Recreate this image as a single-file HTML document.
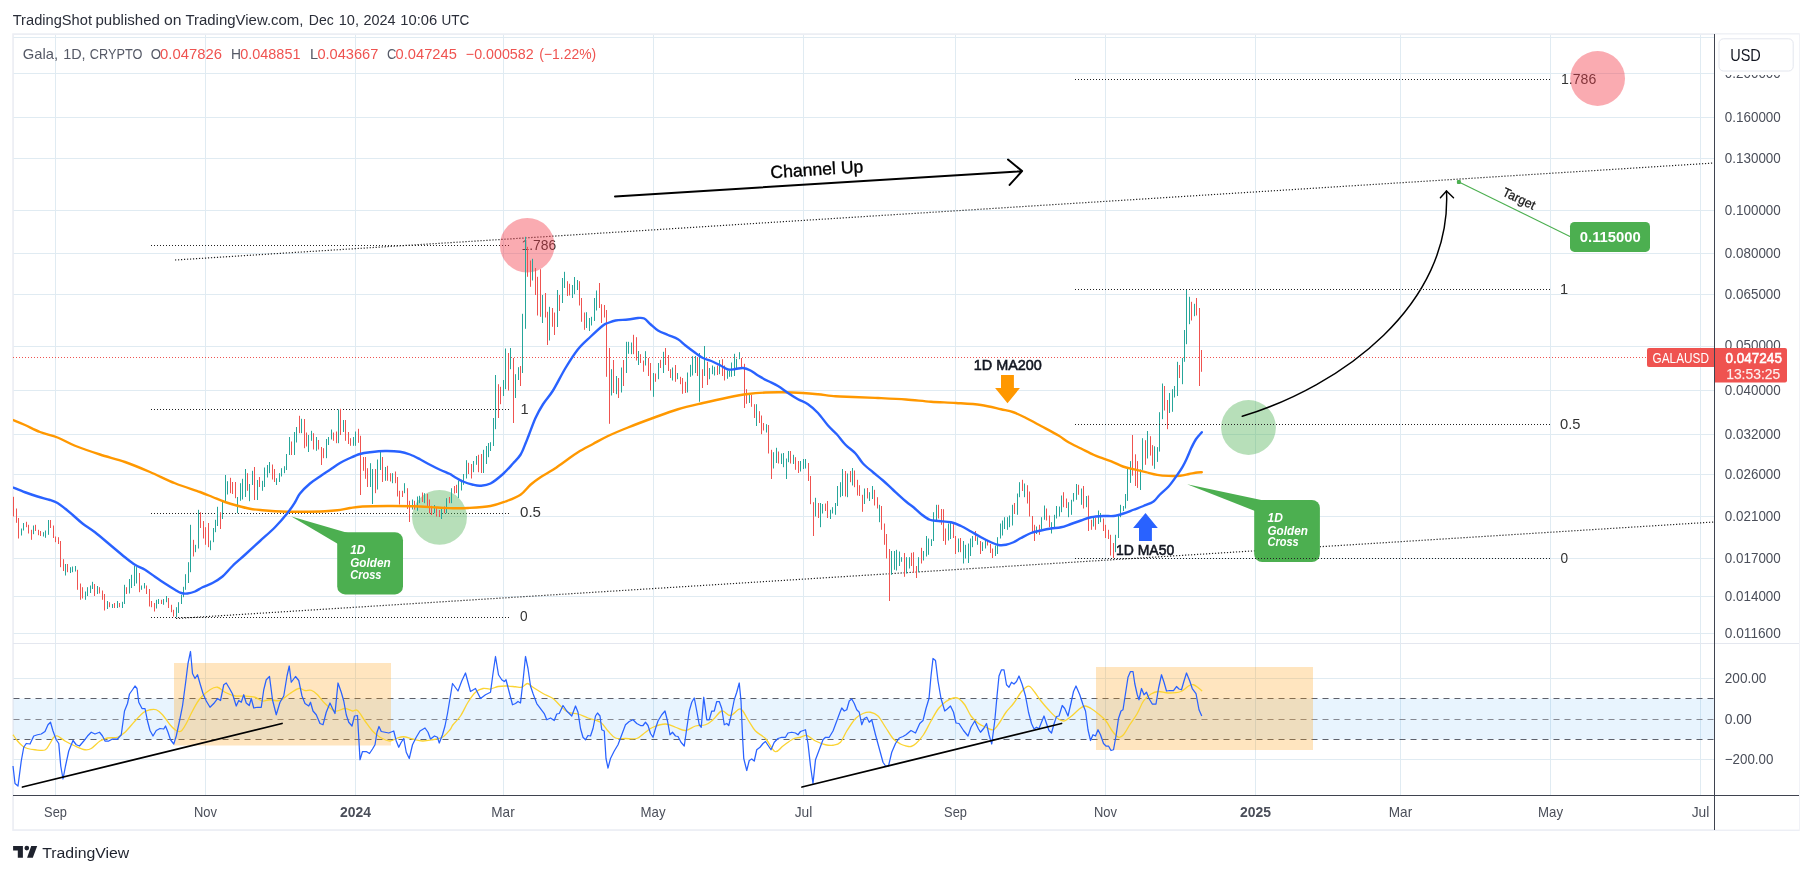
<!DOCTYPE html>
<html lang="en"><head><meta charset="utf-8"><title>GALAUSD chart</title>
<style>html,body{margin:0;padding:0;background:#fff;overflow:hidden}svg{display:block;will-change:transform}text{white-space:pre}</style></head>
<body>
<svg width="1812" height="874" viewBox="0 0 1812 874" font-family="'Liberation Sans', sans-serif" shape-rendering="auto">
<rect x="0" y="0" width="1812" height="874" fill="#ffffff"/>
<rect x="13.07" y="34.1" width="1785.83" height="795.95" fill="none" stroke="#eceef4" stroke-width="1.7"/>
<defs><clipPath id="pane"><rect x="13" y="34" width="1701" height="761"/></clipPath></defs>
<path d="M55.5 35V795M205.5 35V795M355.5 35V795M503.5 35V795M653.5 35V795M803.5 35V795M955.5 35V795M1105.5 35V795M1255.5 35V795M1400.5 35V795M1550.5 35V795M1700.5 35V795M13.5 37.5H1714M13.5 73.5H1714M13.5 117.5H1714M13.5 158.5H1714M13.5 210.5H1714M13.5 253.5H1714M13.5 294.5H1714M13.5 346.5H1714M13.5 390.5H1714M13.5 434.5H1714M13.5 474.5H1714M13.5 516.5H1714M13.5 558.5H1714M13.5 596.5H1714M13.5 633.5H1714M13.5 678.5H1714M13.5 759.5H1714" stroke="#e0ebf2" stroke-width="1" fill="none"/>
<path d="M13 643.5H1799" stroke="#e4e7ef" stroke-width="1.2"/>
<rect x="13.5" y="698.5" width="1700.5" height="41" fill="#2196f3" fill-opacity="0.1"/>
<path d="M13.5 698.5H1714M13.5 739.5H1714" stroke="#5d606b" stroke-width="1" stroke-dasharray="6 5" fill="none"/>
<path d="M13.5 719.5H1714" stroke="#868993" stroke-width="1" stroke-dasharray="6 5" fill="none"/>
<rect x="174" y="663" width="217" height="82.5" fill="#ff9800" fill-opacity="0.25"/>
<rect x="1096" y="667" width="217" height="83" fill="#ff9800" fill-opacity="0.25"/>
<path d="M13 357.5H1647" stroke="#ef5350" stroke-width="1" stroke-dasharray="1 2"/>
<path d="M151 245.5H509.5M151 409.5H509.5M151 513.5H509.5M151 617.5H509.5" stroke="#222" stroke-width="1" stroke-dasharray="1 2" fill="none"/>
<path d="M175 260L1714 163M176 618.5L1714 522" stroke="#222" stroke-width="1.2" stroke-dasharray="1.2 1.8" fill="none"/>
<text x="521.50" y="250.00" font-size="14.6" fill="#333" textLength="34.70" lengthAdjust="spacingAndGlyphs" >1.786</text>
<text x="520.50" y="413.80" font-size="14.6" fill="#333" >1</text>
<text x="520.00" y="516.90" font-size="14.6" fill="#333" textLength="21.00" lengthAdjust="spacingAndGlyphs" >0.5</text>
<text x="520.00" y="620.90" font-size="14.6" fill="#333" textLength="7.60" lengthAdjust="spacingAndGlyphs" >0</text>
<text x="1561.00" y="83.80" font-size="14.6" fill="#333" textLength="35.30" lengthAdjust="spacingAndGlyphs" >1.786</text>
<text x="1560.00" y="293.80" font-size="14.6" fill="#333" >1</text>
<text x="1560.00" y="429.20" font-size="14.6" fill="#333" textLength="20.50" lengthAdjust="spacingAndGlyphs" >0.5</text>
<text x="1560.50" y="563.20" font-size="14.6" fill="#333" textLength="7.60" lengthAdjust="spacingAndGlyphs" >0</text>
<circle cx="527.2" cy="245.2" r="27.3" fill="#f23645" fill-opacity="0.42"/>
<circle cx="1597.6" cy="78.5" r="27.4" fill="#f23645" fill-opacity="0.42"/>
<circle cx="439.5" cy="517.4" r="27.4" fill="#4caf50" fill-opacity="0.4"/>
<circle cx="1248.5" cy="427.5" r="27.4" fill="#4caf50" fill-opacity="0.4"/>
<path d="M21.5 528.5V535.5M23.5 523.0V530.5M33.5 525.5V534.2M43.5 532.2V536.5M45.5 530.5V537.8M48.5 520.0V534.8M65.5 564.0V575.5M70.5 567.2V573.0M72.5 566.5V572.2M75.5 566.0V571.5M85.5 591.5V599.8M87.5 587.2V596.0M90.5 585.5V593.0M92.5 581.8V589.0M97.5 586.0V594.0M107.5 601.0V609.0M112.5 604.0V608.0M117.5 601.0V608.0M122.5 601.8V608.0M124.5 584.8V604.0M129.5 579.0V593.5M131.5 574.8V588.0M134.5 566.0V586.0M136.5 567.2V583.5M141.5 585.5V589.8M144.5 583.0V588.5M156.5 599.8V608.5M158.5 599.0V604.0M163.5 599.0V604.8M166.5 596.0V602.2M176.5 607.2V617.2M178.5 602.2V613.0M181.5 594.8V604.0M183.5 586.8V597.2M185.5 574.2V589.8M188.5 562.2V583.0M190.5 524.8V572.2M195.5 544.8V552.2M198.5 509.8V548.5M210.5 540.5V550.2M213.5 528.0V542.2M215.5 519.8V532.2M217.5 506.8V526.0M222.5 501.5V519.0M225.5 475.0V502.0M227.5 481.2V494.5M237.5 497.0V513.2M240.5 483.2V500.8M242.5 478.8V499.5M245.5 469.0V497.0M249.5 484.0V501.2M252.5 470.8V485.0M257.5 480.0V500.0M262.5 480.8V490.8M264.5 467.5V487.0M267.5 465.0V477.5M269.5 462.0V473.2M276.5 478.2V485.0M279.5 473.2V482.0M281.5 468.2V476.5M284.5 466.2V473.2M286.5 454.0V470.0M289.5 437.0V455.0M294.5 432.0V455.0M296.5 427.0V442.5M301.5 418.8V433.2M308.5 435.0V452.0M311.5 430.8V440.8M316.5 437.0V450.8M326.5 439.0V458.2M328.5 437.0V445.0M331.5 429.5V439.5M338.5 409.5V443.2M343.5 420.0V432.0M353.5 437.0V445.8M355.5 431.5V445.8M370.5 463.2V487.0M372.5 469.0V504.0M377.5 459.5V489.5M380.5 452.0V470.0M385.5 467.0V480.8M392.5 473.2V483.2M404.5 483.2V493.2M412.5 499.5V509.5M417.5 496.5V510.8M419.5 495.8V503.2M424.5 493.2V503.2M434.5 505.0V513.2M441.5 508.2V519.0M446.5 498.2V513.2M451.5 488.2V503.2M458.5 480.5V498.0M461.5 479.8V490.5M463.5 474.0V484.8M466.5 460.2V478.5M473.5 461.0V472.2M476.5 456.0V464.8M483.5 449.8V473.0M486.5 446.0V464.0M488.5 443.0V457.2M490.5 442.2V451.0M493.5 418.0V446.0M495.5 375.0V429.2M503.5 380.0V396.0M505.5 348.5V389.2M510.5 348.0V369.2M515.5 374.2V398.0M518.5 367.2V380.0M522.5 313.8V373.0M525.5 236.8V328.8M532.5 258.8V280.5M542.5 295.0V323.0M549.5 306.8V340.5M557.5 290.0V327.0M562.5 278.0V303.0M564.5 271.8V288.0M572.5 285.0V298.0M574.5 277.0V294.2M577.5 280.0V290.0M586.5 312.2V328.0M589.5 318.0V331.0M591.5 316.8V325.5M594.5 298.0V321.0M596.5 290.5V310.5M611.5 369.2V395.5M616.5 376.0V394.2M621.5 367.5V392.5M626.5 341.8V373.0M628.5 341.8V353.8M631.5 342.5V354.2M638.5 351.0V365.0M645.5 351.2V365.5M653.5 373.0V396.8M658.5 363.0V379.2M663.5 351.8V373.0M672.5 367.5V380.5M677.5 373.0V379.2M687.5 372.5V392.5M690.5 364.8V376.8M692.5 356.2V375.5M695.5 356.0V373.0M699.5 353.0V401.8M704.5 346.0V376.0M709.5 368.0V379.2M712.5 365.5V374.2M714.5 366.8V375.5M719.5 360.0V374.2M727.5 370.5V378.8M729.5 370.5V376.8M731.5 362.5V376.8M734.5 353.8V376.0M736.5 358.8V368.0M739.5 352.2V359.2M749.5 394.2V403.0M756.5 404.2V426.0M766.5 424.2V432.5M773.5 452.2V468.5M776.5 447.8V463.0M781.5 453.5V464.0M783.5 453.0V467.2M786.5 458.5V479.0M788.5 451.0V462.2M793.5 454.8V464.0M800.5 461.0V471.5M803.5 459.0V469.0M805.5 459.0V468.5M815.5 497.8V516.5M820.5 503.0V527.2M822.5 504.0V513.5M830.5 509.8V519.0M832.5 507.2V513.5M835.5 503.0V514.8M837.5 486.0V506.0M840.5 482.2V497.2M842.5 469.0V496.0M847.5 473.5V497.2M852.5 468.0V485.5M864.5 488.5V504.0M869.5 492.2V501.0M872.5 486.0V499.0M879.5 504.8V522.2M891.5 551.0V574.8M894.5 551.0V569.8M896.5 549.8V570.5M899.5 551.5V566.0M901.5 557.2V561.8M906.5 557.2V573.5M909.5 557.2V568.5M918.5 557.2V572.2M923.5 551.0V560.5M926.5 536.0V556.5M928.5 538.5V554.8M931.5 539.2V546.0M933.5 512.2V541.0M936.5 504.8V520.5M948.5 523.5V540.5M950.5 522.2V539.0M958.5 538.5V552.2M963.5 541.0V563.5M965.5 544.8V558.5M968.5 543.5V563.0M970.5 538.5V556.0M972.5 536.0V547.2M977.5 537.2V544.8M982.5 542.2V551.0M985.5 539.8V548.5M995.5 545.5V556.0M997.5 537.2V554.0M1000.5 523.5V538.5M1002.5 520.5V535.5M1004.5 517.2V529.0M1007.5 517.2V529.8M1009.5 515.5V527.2M1012.5 504.8V525.5M1017.5 493.5V514.8M1019.5 482.2V497.2M1024.5 483.5V497.2M1036.5 526.5V534.0M1041.5 517.2V529.0M1044.5 505.5V519.8M1051.5 522.2V533.5M1054.5 514.8V527.2M1056.5 506.0V518.5M1059.5 506.5V516.5M1061.5 495.5V512.2M1068.5 502.2V517.2M1071.5 499.8V514.8M1073.5 493.0V501.5M1076.5 484.0V499.8M1081.5 488.5V504.8M1086.5 496.0V507.2M1093.5 516.0V526.5M1098.5 510.5V524.0M1100.5 513.0V522.2M1115.5 534.8V552.2M1118.5 514.8V538.0M1120.5 504.8V517.2M1123.5 506.0V511.0M1125.5 494.0V508.5M1127.5 468.2V500.9M1130.5 461.1V482.9M1140.5 469.4V490.0M1142.5 438.2V469.9M1147.5 431.0V458.5M1154.5 446.3V468.8M1157.5 447.1V461.9M1159.5 412.2V451.6M1162.5 383.5V419.2M1169.5 393.0V413.0M1172.5 389.2V411.8M1174.5 386.0V397.5M1177.5 361.8V396.0M1182.5 358.0V384.2M1184.5 330.0V361.8M1186.5 289.2V344.2M1189.5 296.8V324.2M1194.5 303.8V316.2" stroke="#26a69a" stroke-width="1" fill="none"/>
<path d="M13.5 496.8V516.5M16.5 508.5V522.8M18.5 518.0V538.5M26.5 521.8V527.2M28.5 524.8V533.5M31.5 529.8V539.8M35.5 524.8V531.0M38.5 529.8V535.2M40.5 531.0V536.0M50.5 520.0V528.0M53.5 525.5V538.0M55.5 536.5V542.2M58.5 537.2V544.0M60.5 541.0V567.2M63.5 559.2V571.0M67.5 564.0V572.2M77.5 569.8V589.8M80.5 583.5V599.8M82.5 587.2V598.5M94.5 584.0V596.0M99.5 587.2V593.5M102.5 590.5V599.8M104.5 594.0V610.5M109.5 602.2V607.2M114.5 603.0V608.0M119.5 603.0V607.2M126.5 587.2V594.0M139.5 573.0V592.2M146.5 585.5V594.0M149.5 589.0V606.5M151.5 601.0V607.2M154.5 603.0V611.5M161.5 599.8V604.0M168.5 598.0V608.0M171.5 604.8V612.2M173.5 609.8V616.5M193.5 539.8V556.5M200.5 512.2V528.0M203.5 521.0V538.5M205.5 527.2V544.8M208.5 523.0V547.2M220.5 512.2V529.0M230.5 477.8V493.2M232.5 482.0V494.0M235.5 482.0V498.2M247.5 473.2V490.8M254.5 467.0V500.0M259.5 477.0V487.0M272.5 464.5V479.5M274.5 469.0V482.0M291.5 441.5V455.0M299.5 415.8V433.2M304.5 419.0V448.2M306.5 432.5V446.5M313.5 433.2V449.5M318.5 440.0V449.5M321.5 447.0V465.0M323.5 448.2V458.2M333.5 432.5V440.8M336.5 431.5V443.2M340.5 408.8V435.0M345.5 420.0V440.8M348.5 432.0V444.0M350.5 438.2V445.8M358.5 428.8V442.8M360.5 435.8V495.0M363.5 457.0V470.8M365.5 457.0V478.8M367.5 468.2V487.0M375.5 469.0V493.2M382.5 457.0V482.0M387.5 465.8V480.8M390.5 473.2V481.5M395.5 471.5V483.2M397.5 477.0V496.5M399.5 490.8V504.5M402.5 490.8V497.0M407.5 488.2V509.0M409.5 500.8V522.0M414.5 500.8V509.5M422.5 492.5V502.0M427.5 493.8V507.0M429.5 499.5V513.2M431.5 505.8V515.0M436.5 507.0V516.5M439.5 510.0V517.0M444.5 506.5V513.2M449.5 497.0V503.2M454.5 486.0V493.5M456.5 484.8V493.0M468.5 462.8V474.0M471.5 464.0V478.5M478.5 454.8V472.2M481.5 454.0V473.0M498.5 384.2V418.0M500.5 386.8V404.2M508.5 353.0V390.5M513.5 358.0V423.0M520.5 366.0V386.0M527.5 246.8V276.8M530.5 260.5V286.8M535.5 268.0V295.0M537.5 276.8V315.5M540.5 269.2V316.8M545.5 293.0V317.5M547.5 311.8V345.0M552.5 308.0V326.8M554.5 312.5V335.0M559.5 295.0V311.0M567.5 281.2V296.0M569.5 283.8V295.5M579.5 281.2V305.5M581.5 298.0V321.8M584.5 312.5V329.8M599.5 283.0V308.0M601.5 304.2V323.0M604.5 305.0V317.5M606.5 310.0V376.8M609.5 348.0V423.8M613.5 360.0V393.0M618.5 378.0V398.0M623.5 360.0V386.0M633.5 334.8V354.2M636.5 337.2V360.5M640.5 354.2V363.0M643.5 360.5V371.8M648.5 358.0V376.0M650.5 363.0V390.5M655.5 373.5V381.8M660.5 359.8V368.0M665.5 348.0V365.0M668.5 355.0V371.0M670.5 369.2V378.0M675.5 365.0V381.8M680.5 376.8V384.2M682.5 378.0V393.8M685.5 381.8V393.0M697.5 358.0V376.0M702.5 369.2V388.0M707.5 361.8V385.0M717.5 365.5V375.0M722.5 359.2V376.0M724.5 365.5V380.5M741.5 358.0V368.0M744.5 363.8V408.0M746.5 389.2V403.8M751.5 395.0V406.8M754.5 404.2V418.0M759.5 411.2V423.0M761.5 415.5V434.2M763.5 423.0V430.5M768.5 425.0V453.5M771.5 449.8V479.0M778.5 451.5V463.5M790.5 451.0V463.5M795.5 457.2V469.8M798.5 461.0V473.0M808.5 463.0V481.0M810.5 476.0V504.2M813.5 502.2V536.0M818.5 503.0V518.0M825.5 503.5V511.0M827.5 501.0V518.0M845.5 471.0V496.5M850.5 471.0V482.2M854.5 470.5V487.2M857.5 479.8V495.5M859.5 485.2V496.0M862.5 494.8V511.8M867.5 488.0V498.5M874.5 489.8V505.5M877.5 497.2V508.5M881.5 506.0V529.8M884.5 523.5V544.8M886.5 534.0V558.5M889.5 549.0V601.0M904.5 553.0V576.8M911.5 552.8V566.0M913.5 552.2V573.0M916.5 566.0V578.0M921.5 547.8V563.5M938.5 504.8V518.5M941.5 509.0V524.8M943.5 509.2V541.0M945.5 528.5V544.8M953.5 524.2V538.0M955.5 536.0V554.0M960.5 538.0V552.2M975.5 531.0V541.0M980.5 541.0V554.0M987.5 540.5V545.5M990.5 544.0V553.0M992.5 548.5V558.0M1014.5 503.0V514.0M1022.5 479.8V491.0M1027.5 485.2V503.5M1029.5 491.5V516.5M1032.5 516.0V532.2M1034.5 524.8V541.0M1039.5 524.8V534.8M1046.5 508.5V520.5M1049.5 515.5V527.2M1063.5 492.2V507.2M1066.5 498.5V508.0M1078.5 484.8V494.8M1083.5 486.0V508.5M1088.5 495.5V531.0M1091.5 519.8V529.8M1095.5 518.0V529.8M1103.5 518.5V531.0M1105.5 524.8V538.0M1108.5 529.8V539.0M1110.5 534.8V555.5M1113.5 543.0V558.0M1132.5 435.0V475.7M1135.5 454.3V486.0M1137.5 461.1V487.9M1145.5 440.2V464.8M1150.5 436.2V455.6M1152.5 445.1V465.7M1164.5 386.0V410.5M1167.5 400.0V429.2M1179.5 365.0V378.0M1191.5 301.8V320.5M1196.5 298.0V315.5M1199.5 308.0V386.0M1201.5 350.0V371.8" stroke="#ef5350" stroke-width="1" fill="none"/>
<g clip-path="url(#pane)">
<path d="M13.00 420.00C15.00 420.83 20.50 423.00 25.00 425.00C29.50 427.00 34.58 429.92 40.00 432.00C45.42 434.08 51.67 435.21 57.50 437.50C63.33 439.79 67.92 442.92 75.00 445.75C82.08 448.58 91.67 451.79 100.00 454.50C108.33 457.21 116.67 459.08 125.00 462.00C133.33 464.92 141.67 468.46 150.00 472.00C158.33 475.54 166.67 479.92 175.00 483.25C183.33 486.58 193.75 489.71 200.00 492.00C206.25 494.29 208.33 495.33 212.50 497.00C216.67 498.67 220.83 500.54 225.00 502.00C229.17 503.46 233.33 504.62 237.50 505.75C241.67 506.88 245.83 508.00 250.00 508.75C254.17 509.50 258.33 509.83 262.50 510.25C266.67 510.67 270.83 511.00 275.00 511.25C279.17 511.50 283.33 511.67 287.50 511.75C291.67 511.83 293.75 511.83 300.00 511.75C306.25 511.67 318.75 511.50 325.00 511.25C331.25 511.00 333.33 510.79 337.50 510.25C341.67 509.71 345.83 508.62 350.00 508.00C354.17 507.38 356.25 506.83 362.50 506.50C368.75 506.17 379.17 506.04 387.50 506.00C395.83 505.96 404.17 506.00 412.50 506.25C420.83 506.50 430.75 507.17 437.50 507.50C444.25 507.83 447.92 508.17 453.00 508.25C458.08 508.33 461.75 508.38 468.00 508.00C474.25 507.62 484.25 507.08 490.50 506.00C496.75 504.92 500.50 503.38 505.50 501.50C510.50 499.62 516.33 497.54 520.50 494.75C524.67 491.96 527.17 487.67 530.50 484.75C533.83 481.83 536.75 479.75 540.50 477.25C544.25 474.75 548.83 472.46 553.00 469.75C557.17 467.04 561.33 463.92 565.50 461.00C569.67 458.08 573.42 455.08 578.00 452.25C582.58 449.42 588.00 446.71 593.00 444.00C598.00 441.29 602.17 438.75 608.00 436.00C613.83 433.25 620.50 430.50 628.00 427.50C635.50 424.50 644.67 421.04 653.00 418.00C661.33 414.96 669.67 411.75 678.00 409.25C686.33 406.75 694.67 404.96 703.00 403.00C711.33 401.04 720.50 399.00 728.00 397.50C735.50 396.00 741.75 394.83 748.00 394.00C754.25 393.17 759.67 392.79 765.50 392.50C771.33 392.21 776.75 392.17 783.00 392.25C789.25 392.33 797.17 392.67 803.00 393.00C808.83 393.33 812.58 393.71 818.00 394.25C823.42 394.79 829.67 395.79 835.50 396.25C841.33 396.71 845.92 396.71 853.00 397.00C860.08 397.29 869.17 397.58 878.00 398.00C886.83 398.42 897.17 398.88 906.00 399.50C914.83 400.12 922.67 401.17 931.00 401.75C939.33 402.33 947.67 402.46 956.00 403.00C964.33 403.54 973.50 403.96 981.00 405.00C988.50 406.04 995.58 408.04 1001.00 409.25C1006.42 410.46 1009.33 410.79 1013.50 412.25C1017.67 413.71 1021.42 415.71 1026.00 418.00C1030.58 420.29 1035.58 423.08 1041.00 426.00C1046.42 428.92 1053.92 432.79 1058.50 435.50C1063.08 438.21 1064.75 440.08 1068.50 442.25C1072.25 444.42 1076.83 446.42 1081.00 448.50C1085.17 450.58 1090.33 453.27 1093.50 454.75C1096.67 456.23 1097.02 456.29 1100.00 457.40C1102.98 458.51 1107.58 459.88 1111.40 461.40C1115.22 462.92 1119.08 465.17 1122.90 466.50C1126.72 467.83 1130.48 468.45 1134.30 469.40C1138.12 470.35 1141.98 471.28 1145.80 472.20C1149.62 473.12 1153.40 474.28 1157.20 474.90C1161.00 475.52 1164.80 475.77 1168.60 475.90C1172.40 476.03 1176.57 476.02 1180.00 475.70C1183.43 475.38 1186.32 474.53 1189.20 474.00C1192.08 473.47 1195.20 472.78 1197.30 472.50C1199.40 472.22 1201.05 472.33 1201.80 472.30" stroke="#ff9800" stroke-width="2.4" fill="none" stroke-linecap="round" stroke-linejoin="round"/>
<path d="M13.00 487.50C15.00 488.29 20.92 490.75 25.00 492.25C29.08 493.75 33.33 495.21 37.50 496.50C41.67 497.79 46.67 498.92 50.00 500.00C53.33 501.08 55.00 501.58 57.50 503.00C60.00 504.42 62.50 506.54 65.00 508.50C67.50 510.46 69.58 512.25 72.50 514.75C75.42 517.25 78.75 520.58 82.50 523.50C86.25 526.42 90.42 528.71 95.00 532.25C99.58 535.79 105.00 540.58 110.00 544.75C115.00 548.92 120.83 553.92 125.00 557.25C129.17 560.58 131.67 562.67 135.00 564.75C138.33 566.83 141.67 567.75 145.00 569.75C148.33 571.75 151.67 574.46 155.00 576.75C158.33 579.04 161.67 581.33 165.00 583.50C168.33 585.67 172.29 588.17 175.00 589.75C177.71 591.33 179.17 592.38 181.25 593.00C183.33 593.62 185.21 593.75 187.50 593.50C189.79 593.25 192.50 592.54 195.00 591.50C197.50 590.46 199.58 588.67 202.50 587.25C205.42 585.83 209.17 584.79 212.50 583.00C215.83 581.21 219.17 579.33 222.50 576.50C225.83 573.67 228.75 569.62 232.50 566.00C236.25 562.38 240.42 558.92 245.00 554.75C249.58 550.58 255.00 545.58 260.00 541.00C265.00 536.42 270.42 531.92 275.00 527.25C279.58 522.58 284.17 517.17 287.50 513.00C290.83 508.83 292.92 505.50 295.00 502.25C297.08 499.00 297.50 496.62 300.00 493.50C302.50 490.38 306.67 486.33 310.00 483.50C313.33 480.67 316.67 478.79 320.00 476.50C323.33 474.21 326.67 472.00 330.00 469.75C333.33 467.50 336.67 464.96 340.00 463.00C343.33 461.04 346.67 459.50 350.00 458.00C353.33 456.50 356.67 454.96 360.00 454.00C363.33 453.04 365.83 452.75 370.00 452.25C374.17 451.75 380.00 451.08 385.00 451.00C390.00 450.92 395.83 451.17 400.00 451.75C404.17 452.33 406.67 453.25 410.00 454.50C413.33 455.75 416.67 457.54 420.00 459.25C423.33 460.96 426.67 463.00 430.00 464.75C433.33 466.50 436.67 468.21 440.00 469.75C443.33 471.29 447.83 472.96 450.00 474.00C452.17 475.04 450.83 474.75 453.00 476.00C455.17 477.25 459.67 480.04 463.00 481.50C466.33 482.96 470.08 484.04 473.00 484.75C475.92 485.46 477.58 485.96 480.50 485.75C483.42 485.54 486.75 485.46 490.50 483.50C494.25 481.54 499.25 477.33 503.00 474.00C506.75 470.67 510.08 466.71 513.00 463.50C515.92 460.29 518.42 458.08 520.50 454.75C522.58 451.42 524.17 446.62 525.50 443.50C526.83 440.38 526.83 440.25 528.50 436.00C530.17 431.75 533.08 423.29 535.50 418.00C537.92 412.71 540.08 408.83 543.00 404.25C545.92 399.67 549.25 396.54 553.00 390.50C556.75 384.46 561.33 374.88 565.50 368.00C569.67 361.12 573.83 354.46 578.00 349.25C582.17 344.04 586.33 340.71 590.50 336.75C594.67 332.79 600.08 327.79 603.00 325.50C605.92 323.21 605.92 323.83 608.00 323.00C610.08 322.17 612.17 321.08 615.50 320.50C618.83 319.92 624.25 319.92 628.00 319.50C631.75 319.08 635.29 318.17 638.00 318.00C640.71 317.83 642.17 317.46 644.25 318.50C646.33 319.54 648.21 322.25 650.50 324.25C652.79 326.25 655.08 328.71 658.00 330.50C660.92 332.29 664.67 333.54 668.00 335.00C671.33 336.46 675.08 337.50 678.00 339.25C680.92 341.00 682.58 343.21 685.50 345.50C688.42 347.79 692.58 350.92 695.50 353.00C698.42 355.08 700.08 356.54 703.00 358.00C705.92 359.46 710.08 360.50 713.00 361.75C715.92 363.00 718.00 364.21 720.50 365.50C723.00 366.79 725.50 368.92 728.00 369.50C730.50 370.08 733.00 369.25 735.50 369.00C738.00 368.75 740.50 367.75 743.00 368.00C745.50 368.25 748.00 369.25 750.50 370.50C753.00 371.75 755.08 373.75 758.00 375.50C760.92 377.25 764.67 379.25 768.00 381.00C771.33 382.75 774.67 384.00 778.00 386.00C781.33 388.00 784.67 390.79 788.00 393.00C791.33 395.21 794.67 397.38 798.00 399.25C801.33 401.12 804.67 401.96 808.00 404.25C811.33 406.54 814.67 409.46 818.00 413.00C821.33 416.54 824.88 421.96 828.00 425.50C831.12 429.04 833.83 431.04 836.75 434.25C839.67 437.46 842.38 441.54 845.50 444.75C848.62 447.96 852.58 450.38 855.50 453.50C858.42 456.62 860.08 460.38 863.00 463.50C865.92 466.62 869.67 469.42 873.00 472.25C876.33 475.08 879.67 477.58 883.00 480.50C886.33 483.42 889.17 486.25 893.00 489.75C896.83 493.25 902.58 498.58 906.00 501.50C909.42 504.42 911.00 505.17 913.50 507.25C916.00 509.33 918.29 511.92 921.00 514.00C923.71 516.08 926.83 518.58 929.75 519.75C932.67 520.92 934.96 520.58 938.50 521.00C942.04 521.42 947.25 521.42 951.00 522.25C954.75 523.08 957.67 524.46 961.00 526.00C964.33 527.54 967.67 529.62 971.00 531.50C974.33 533.38 977.67 535.46 981.00 537.25C984.33 539.04 988.08 540.96 991.00 542.25C993.92 543.54 996.00 544.58 998.50 545.00C1001.00 545.42 1003.50 545.21 1006.00 544.75C1008.50 544.29 1011.00 543.38 1013.50 542.25C1016.00 541.12 1018.08 539.54 1021.00 538.00C1023.92 536.46 1027.67 534.25 1031.00 533.00C1034.33 531.75 1037.67 531.25 1041.00 530.50C1044.33 529.75 1047.67 529.04 1051.00 528.50C1054.33 527.96 1057.67 528.00 1061.00 527.25C1064.33 526.50 1067.67 525.12 1071.00 524.00C1074.33 522.88 1077.67 521.62 1081.00 520.50C1084.33 519.38 1087.25 518.00 1091.00 517.25C1094.75 516.50 1099.75 516.21 1103.50 516.00C1107.25 515.79 1110.17 516.42 1113.50 516.00C1116.83 515.58 1120.17 514.54 1123.50 513.50C1126.83 512.46 1130.17 511.00 1133.50 509.75C1136.83 508.50 1140.17 507.38 1143.50 506.00C1146.83 504.62 1150.83 503.33 1153.50 501.50C1156.17 499.67 1156.98 497.50 1159.50 495.00C1162.02 492.50 1165.93 489.43 1168.60 486.50C1171.27 483.57 1173.20 480.63 1175.50 477.40C1177.80 474.17 1180.48 470.33 1182.40 467.10C1184.32 463.87 1185.48 461.25 1187.00 458.00C1188.52 454.75 1189.98 450.77 1191.50 447.60C1193.02 444.43 1194.38 441.57 1196.10 439.00C1197.82 436.43 1200.85 433.33 1201.80 432.20" stroke="#2962ff" stroke-width="2.4" fill="none" stroke-linecap="round" stroke-linejoin="round"/>
</g>
<path d="M13.00 734.75C13.75 735.79 15.92 739.12 17.50 741.00C19.08 742.88 20.83 744.75 22.50 746.00C24.17 747.25 25.42 747.88 27.50 748.50C29.58 749.12 32.08 749.50 35.00 749.75C37.92 750.00 42.50 751.04 45.00 750.00C47.50 748.96 48.54 745.62 50.00 743.50C51.46 741.38 52.50 738.50 53.75 737.25C55.00 736.00 55.62 735.38 57.50 736.00C59.38 736.62 62.08 739.33 65.00 741.00C67.92 742.67 71.67 744.54 75.00 746.00C78.33 747.46 82.29 749.33 85.00 749.75C87.71 750.17 88.75 749.96 91.25 748.50C93.75 747.04 97.29 742.75 100.00 741.00C102.71 739.25 104.58 738.62 107.50 738.00C110.42 737.38 114.58 738.21 117.50 737.25C120.42 736.29 122.08 734.96 125.00 732.25C127.92 729.54 131.88 724.33 135.00 721.00C138.12 717.67 141.25 714.12 143.75 712.25C146.25 710.38 147.92 710.17 150.00 709.75C152.08 709.33 154.17 708.92 156.25 709.75C158.33 710.58 160.21 712.25 162.50 714.75C164.79 717.25 167.71 722.12 170.00 724.75C172.29 727.38 174.38 729.46 176.25 730.50C178.12 731.54 179.58 732.17 181.25 731.00C182.92 729.83 184.38 726.83 186.25 723.50C188.12 720.17 190.21 715.17 192.50 711.00C194.79 706.83 197.08 702.04 200.00 698.50C202.92 694.96 207.08 691.62 210.00 689.75C212.92 687.88 215.00 686.83 217.50 687.25C220.00 687.67 222.08 690.79 225.00 692.25C227.92 693.71 231.67 695.38 235.00 696.00C238.33 696.62 241.67 695.79 245.00 696.00C248.33 696.21 252.08 696.42 255.00 697.25C257.92 698.08 260.00 700.58 262.50 701.00C265.00 701.42 267.08 699.83 270.00 699.75C272.92 699.67 276.67 701.54 280.00 700.50C283.33 699.46 286.88 695.50 290.00 693.50C293.12 691.50 296.25 689.00 298.75 688.50C301.25 688.00 302.92 690.21 305.00 690.50C307.08 690.79 309.17 689.54 311.25 690.25C313.33 690.96 315.21 692.54 317.50 694.75C319.79 696.96 322.08 700.79 325.00 703.50C327.92 706.21 331.67 710.17 335.00 711.00C338.33 711.83 342.08 708.50 345.00 708.50C347.92 708.50 350.42 710.67 352.50 711.00C354.58 711.33 355.42 708.83 357.50 710.50C359.58 712.17 362.50 717.58 365.00 721.00C367.50 724.42 370.00 728.29 372.50 731.00C375.00 733.71 377.08 735.58 380.00 737.25C382.92 738.92 387.08 740.88 390.00 741.00C392.92 741.12 395.21 738.71 397.50 738.00C399.79 737.29 401.25 736.58 403.75 736.75C406.25 736.92 409.38 738.29 412.50 739.00C415.62 739.71 419.17 740.88 422.50 741.00C425.83 741.12 429.17 740.38 432.50 739.75C435.83 739.12 439.58 738.92 442.50 737.25C445.42 735.58 448.25 731.83 450.00 729.75C451.75 727.67 451.25 727.04 453.00 724.75C454.75 722.46 458.00 719.75 460.50 716.00C463.00 712.25 465.50 706.21 468.00 702.25C470.50 698.29 473.00 694.54 475.50 692.25C478.00 689.96 480.50 689.04 483.00 688.50C485.50 687.96 488.00 689.33 490.50 689.00C493.00 688.67 495.29 687.00 498.00 686.50C500.71 686.00 503.83 685.96 506.75 686.00C509.67 686.04 513.00 686.54 515.50 686.75C518.00 686.96 519.75 687.79 521.75 687.25C523.75 686.71 525.62 683.50 527.50 683.50C529.38 683.50 530.42 685.58 533.00 687.25C535.58 688.92 539.67 691.62 543.00 693.50C546.33 695.38 550.08 696.42 553.00 698.50C555.92 700.58 558.00 703.71 560.50 706.00C563.00 708.29 565.08 710.92 568.00 712.25C570.92 713.58 574.67 713.04 578.00 714.00C581.33 714.96 584.25 716.62 588.00 718.00C591.75 719.38 597.17 720.08 600.50 722.25C603.83 724.42 605.50 728.38 608.00 731.00C610.50 733.62 612.58 736.75 615.50 738.00C618.42 739.25 621.96 738.42 625.50 738.50C629.04 738.58 633.42 739.54 636.75 738.50C640.08 737.46 642.79 734.12 645.50 732.25C648.21 730.38 649.67 728.62 653.00 727.25C656.33 725.88 661.75 724.00 665.50 724.00C669.25 724.00 672.17 726.17 675.50 727.25C678.83 728.33 682.17 730.71 685.50 730.50C688.83 730.29 692.17 726.96 695.50 726.00C698.83 725.04 702.58 725.79 705.50 724.75C708.42 723.71 710.29 722.04 713.00 719.75C715.71 717.46 718.83 711.71 721.75 711.00C724.67 710.29 727.38 715.83 730.50 715.50C733.62 715.17 737.58 708.29 740.50 709.00C743.42 709.71 745.50 716.08 748.00 719.75C750.50 723.42 752.58 727.88 755.50 731.00C758.42 734.12 762.25 735.08 765.50 738.50C768.75 741.92 772.08 750.25 775.00 751.50C777.92 752.75 780.00 748.08 783.00 746.00C786.00 743.92 790.08 740.46 793.00 739.00C795.92 737.54 798.21 737.83 800.50 737.25C802.79 736.67 804.25 734.88 806.75 735.50C809.25 736.12 812.38 739.46 815.50 741.00C818.62 742.54 822.58 744.04 825.50 744.75C828.42 745.46 830.50 745.67 833.00 745.25C835.50 744.83 838.21 744.62 840.50 742.25C842.79 739.88 844.25 734.96 846.75 731.00C849.25 727.04 852.79 721.42 855.50 718.50C858.21 715.58 860.50 714.54 863.00 713.50C865.50 712.46 868.00 711.83 870.50 712.25C873.00 712.67 875.50 713.50 878.00 716.00C880.50 718.50 883.00 723.50 885.50 727.25C888.00 731.00 890.50 735.71 893.00 738.50C895.50 741.29 898.33 742.75 900.50 744.00C902.67 745.25 904.25 745.58 906.00 746.00C907.75 746.42 909.33 746.92 911.00 746.50C912.67 746.08 913.92 745.46 916.00 743.50C918.08 741.54 921.00 738.50 923.50 734.75C926.00 731.00 928.50 725.38 931.00 721.00C933.50 716.62 936.00 711.75 938.50 708.50C941.00 705.25 943.50 703.25 946.00 701.50C948.50 699.75 951.42 698.50 953.50 698.00C955.58 697.50 956.62 697.38 958.50 698.50C960.38 699.62 962.67 701.83 964.75 704.75C966.83 707.67 968.71 712.88 971.00 716.00C973.29 719.12 976.00 721.62 978.50 723.50C981.00 725.38 983.50 726.21 986.00 727.25C988.50 728.29 991.21 730.58 993.50 729.75C995.79 728.92 997.67 725.17 999.75 722.25C1001.83 719.33 1003.71 715.38 1006.00 712.25C1008.29 709.12 1011.00 706.83 1013.50 703.50C1016.00 700.17 1018.92 694.96 1021.00 692.25C1023.08 689.54 1024.54 688.21 1026.00 687.25C1027.46 686.29 1028.29 685.67 1029.75 686.50C1031.21 687.33 1032.88 689.83 1034.75 692.25C1036.62 694.67 1038.71 698.08 1041.00 701.00C1043.29 703.92 1046.00 707.04 1048.50 709.75C1051.00 712.46 1053.50 715.38 1056.00 717.25C1058.50 719.12 1061.00 721.12 1063.50 721.00C1066.00 720.88 1068.50 718.38 1071.00 716.50C1073.50 714.62 1076.21 711.50 1078.50 709.75C1080.79 708.00 1082.67 706.21 1084.75 706.00C1086.83 705.79 1088.71 707.17 1091.00 708.50C1093.29 709.83 1096.00 711.92 1098.50 714.00C1101.00 716.08 1103.71 718.17 1106.00 721.00C1108.29 723.83 1110.17 728.29 1112.25 731.00C1114.33 733.71 1116.62 736.62 1118.50 737.25C1120.38 737.88 1121.62 736.83 1123.50 734.75C1125.38 732.67 1127.46 728.29 1129.75 724.75C1132.04 721.21 1134.96 717.46 1137.25 713.50C1139.54 709.54 1141.21 704.25 1143.50 701.00C1145.79 697.75 1148.50 695.58 1151.00 694.00C1153.50 692.42 1155.58 691.67 1158.50 691.50C1161.42 691.33 1164.75 693.00 1168.50 693.00C1172.25 693.00 1177.67 692.67 1181.00 691.50C1184.33 690.33 1186.42 687.12 1188.50 686.00C1190.58 684.88 1191.83 684.42 1193.50 684.75C1195.17 685.08 1197.04 686.96 1198.50 688.00C1199.96 689.04 1201.62 690.50 1202.25 691.00" stroke="#fbd433" stroke-width="1.3" fill="none" stroke-linejoin="round"/>
<path d="M13.00 766.00L15.00 783.50L18.00 786.00L21.25 761.00L23.75 747.25L26.25 743.50L30.00 744.00L33.75 736.00L37.50 734.75L41.25 734.00L45.00 731.50L48.00 724.75L50.50 722.25L53.00 731.00L56.25 739.75L58.75 743.50L60.75 766.00L63.00 779.00L65.50 766.00L68.75 751.00L73.00 740.50L76.25 744.75L79.50 746.00L83.75 741.00L87.50 736.00L91.25 732.25L95.00 734.00L99.50 732.25L102.50 736.00L105.00 741.00L108.75 741.00L112.50 739.00L117.50 739.00L121.25 734.75L124.50 711.00L127.50 703.50L129.50 694.00L132.50 689.75L135.00 686.00L137.00 688.50L138.75 702.25L142.00 708.50L145.00 708.50L147.50 721.00L150.00 730.50L153.00 736.00L156.25 730.50L160.00 728.50L163.75 729.00L165.50 726.00L168.00 732.25L170.50 739.75L173.75 744.00L176.25 736.00L179.50 721.00L182.50 706.00L185.50 683.50L188.00 663.50L190.50 651.50L192.50 673.50L195.00 678.50L197.50 674.75L200.00 683.50L203.00 693.50L206.25 701.00L210.00 707.25L213.75 703.50L217.50 698.50L220.50 700.50L223.75 684.75L226.25 683.00L229.50 688.50L232.50 694.00L236.25 706.00L238.75 700.50L241.25 702.25L243.75 694.75L246.25 703.00L249.25 705.50L251.25 698.50L253.75 708.00L257.50 707.25L261.25 707.25L263.75 689.75L266.25 679.75L269.50 676.50L272.50 699.75L276.25 714.75L280.00 702.25L283.75 696.00L287.00 676.00L289.25 666.00L291.25 682.25L295.50 676.50L298.75 680.50L302.00 696.00L305.00 703.50L308.75 706.00L310.50 702.25L313.00 711.00L316.25 714.75L320.00 723.50L323.00 724.75L326.25 712.25L330.00 703.00L332.50 708.50L335.00 713.50L338.00 683.00L341.25 692.25L343.75 701.00L346.25 714.75L348.75 722.25L352.00 726.00L354.50 716.00L357.50 715.50L360.00 759.75L362.50 751.50L366.25 751.50L369.50 753.50L372.50 749.00L375.00 744.75L377.00 732.25L379.00 726.50L381.25 731.50L385.00 732.25L388.75 733.00L393.75 731.00L396.25 741.00L398.75 747.25L401.25 742.25L403.75 738.50L406.25 752.25L409.25 758.50L412.50 744.75L416.25 737.25L420.00 731.00L425.00 728.00L428.00 732.25L430.50 739.00L434.50 736.00L437.50 737.25L439.25 743.00L442.50 734.75L445.00 726.00L447.50 713.50L450.00 698.50L452.50 683.50L458.00 691.00L461.75 681.00L465.50 673.00L470.50 691.50L475.50 688.50L480.50 698.50L485.50 694.75L490.50 692.25L493.00 673.50L495.50 656.50L498.50 674.75L501.75 679.75L504.25 681.50L506.00 679.75L509.25 692.25L512.50 704.75L515.50 703.50L518.00 701.50L520.50 703.00L523.00 681.00L525.50 656.50L528.00 668.50L530.50 686.00L533.00 693.50L536.75 703.50L540.50 708.50L544.25 713.50L546.75 719.75L550.50 718.00L554.25 720.50L556.75 714.00L559.25 713.50L563.00 705.50L566.75 711.00L571.75 716.00L575.50 706.00L578.00 712.25L580.50 728.50L583.00 737.25L585.50 739.75L588.00 735.50L590.50 736.00L593.00 728.50L595.50 716.00L597.50 713.00L600.00 716.00L601.75 729.75L604.25 731.00L606.00 758.50L608.00 768.00L610.50 758.50L614.25 751.00L618.00 744.75L621.75 734.75L625.50 724.75L629.25 721.50L633.00 719.75L636.75 723.50L640.50 725.50L643.00 725.50L645.50 722.25L648.00 725.50L650.50 733.50L653.00 737.25L655.50 728.50L658.00 721.00L661.75 714.75L665.00 711.00L667.50 721.00L670.00 734.75L672.50 732.25L675.50 736.00L678.00 736.50L681.00 742.25L684.25 746.00L686.75 728.50L689.25 711.00L691.75 702.25L694.25 698.00L696.75 711.00L699.25 724.75L701.25 727.25L703.75 697.25L706.75 719.75L709.25 719.75L711.75 711.00L714.25 711.00L716.75 701.50L719.25 701.50L721.75 708.50L724.25 724.75L726.75 723.50L728.75 725.50L731.00 716.00L734.25 699.75L736.75 692.25L739.25 683.00L741.00 701.00L742.50 736.00L743.75 758.50L746.75 770.50L749.25 760.50L751.75 759.00L754.25 761.00L756.75 749.75L760.00 747.25L763.00 743.50L765.50 741.50L768.50 746.00L771.00 749.75L774.25 742.25L778.00 738.50L781.75 737.25L785.50 737.25L788.00 733.00L791.75 732.25L795.50 733.00L798.00 734.75L800.50 731.50L805.50 729.75L808.00 743.50L810.50 766.00L813.00 783.50L815.50 759.75L819.25 749.75L823.00 739.75L825.50 737.25L829.25 737.25L833.00 731.00L836.75 721.00L840.00 712.25L841.75 708.00L844.25 711.00L846.75 709.75L849.25 701.00L851.75 699.00L854.25 703.50L856.75 709.75L859.25 712.25L861.75 724.75L864.25 718.50L866.75 717.25L869.25 722.25L871.75 719.75L875.50 734.75L879.25 748.50L883.00 762.25L885.50 766.00L888.50 766.00L891.75 752.25L895.50 743.50L899.25 738.00L903.00 736.50L906.00 734.75L911.00 730.50L915.50 733.00L919.75 723.50L923.00 720.50L926.00 708.50L929.00 698.50L931.00 676.00L933.00 658.50L935.50 660.50L938.00 681.00L941.00 698.50L944.75 711.00L947.25 709.00L950.50 706.00L953.50 712.25L956.00 723.00L959.00 723.50L963.50 730.50L968.00 736.00L971.00 727.25L974.75 721.00L978.50 729.00L980.50 732.25L984.00 728.00L986.50 723.50L989.00 734.75L991.75 744.00L994.75 721.00L997.25 693.50L999.00 676.00L1001.50 669.75L1004.00 669.75L1006.50 684.75L1009.00 687.25L1011.50 682.25L1014.00 684.00L1016.50 681.50L1019.00 676.00L1022.25 684.75L1025.50 696.00L1028.50 712.25L1031.50 723.50L1034.00 729.00L1036.50 727.25L1039.00 728.50L1041.50 722.25L1044.00 716.00L1046.50 723.50L1049.00 730.50L1051.50 733.00L1054.00 724.00L1056.50 716.50L1059.00 716.00L1062.25 705.50L1064.75 708.50L1068.00 716.00L1071.00 703.00L1073.50 691.50L1076.00 686.00L1079.75 694.75L1083.00 704.75L1085.50 711.00L1088.00 729.75L1090.50 740.50L1093.00 734.75L1095.50 736.00L1098.00 729.75L1100.50 734.75L1103.50 743.50L1106.00 746.00L1108.50 746.00L1111.00 750.50L1113.50 749.75L1116.00 736.00L1118.50 718.50L1121.00 711.00L1123.00 709.75L1125.50 693.50L1128.00 677.25L1130.50 671.50L1133.00 671.50L1134.75 683.50L1137.25 694.75L1139.00 699.75L1141.50 688.50L1144.00 694.75L1146.50 692.25L1149.00 698.50L1152.25 704.00L1156.00 704.00L1158.50 688.50L1161.50 674.75L1164.00 682.25L1166.50 691.00L1169.75 690.50L1173.50 690.50L1176.50 686.50L1179.00 689.00L1181.50 689.75L1184.00 681.00L1186.50 673.00L1189.75 681.00L1192.25 688.50L1196.00 693.50L1199.00 709.75L1201.75 716.00" stroke="#2962ff" stroke-width="1.25" fill="none" stroke-linejoin="round"/>
<path d="M22.5 787L282 723.5M802 787L1061.5 723.5" stroke="#000" stroke-width="1.8" stroke-linecap="round"/>
<path d="M615 196.5L1022 171.2M1008 159.6L1022.1 171.1L1009.6 184.9" stroke="#000" stroke-width="2" fill="none" stroke-linecap="round" stroke-linejoin="round"/>
<text x="817.20" y="175.30" font-size="17.6" fill="#000" text-anchor="middle" textLength="93.00" lengthAdjust="spacingAndGlyphs" stroke="#000" stroke-width="0.35" transform="rotate(-3.6 817.2 175.3)">Channel Up</text>
<path d="M1242.25 416.25C1340.9 386.4 1452 305.6 1446.5 191" stroke="#000" stroke-width="1.45" fill="none" stroke-linecap="round"/>
<path d="M1440.4 197.7L1446.5 190.9L1453.5 197.7" stroke="#000" stroke-width="1.45" fill="none" stroke-linecap="round" stroke-linejoin="round"/>
<path d="M1458.9 182L1571 237" stroke="#4caf50" stroke-width="1.1"/>
<rect x="1456.9" y="180" width="4" height="4.1" rx="1" fill="#4caf50"/>
<rect x="1570" y="222" width="80" height="29.9" rx="4.5" fill="#4caf50"/>
<text x="1579.80" y="242.00" font-size="15" fill="#fff" font-weight="bold" textLength="61.00" lengthAdjust="spacingAndGlyphs" >0.115000</text>
<text x="1501.60" y="195.20" font-size="13" fill="#1a1a1a" textLength="34.50" lengthAdjust="spacingAndGlyphs" stroke="#1a1a1a" stroke-width="0.25" transform="rotate(25.3 1501.6 195.2)">Target</text>
<rect x="337.2" y="532.2" width="65.8" height="62.2" rx="8" fill="#4caf50"/>
<path d="M291.4 516.4L348.0 533.0L338.0 544.0Z" fill="#4caf50"/>
<text x="350.20" y="553.60" font-size="12.5" fill="#fff" font-weight="bold" font-style="italic" textLength="15.30" lengthAdjust="spacingAndGlyphs" >1D</text>
<text x="350.20" y="566.80" font-size="12.5" fill="#fff" font-weight="bold" font-style="italic" textLength="40.40" lengthAdjust="spacingAndGlyphs" >Golden</text>
<text x="350.20" y="578.50" font-size="12.5" fill="#fff" font-weight="bold" font-style="italic" textLength="31.20" lengthAdjust="spacingAndGlyphs" >Cross</text>
<rect x="1254.2" y="500.0" width="65.7" height="62.1" rx="8" fill="#4caf50"/>
<path d="M1187.1 484.3L1266.0 501.0L1255.0 511.0Z" fill="#4caf50"/>
<text x="1267.50" y="521.50" font-size="12.5" fill="#fff" font-weight="bold" font-style="italic" textLength="15.30" lengthAdjust="spacingAndGlyphs" >1D</text>
<text x="1267.50" y="534.70" font-size="12.5" fill="#fff" font-weight="bold" font-style="italic" textLength="40.40" lengthAdjust="spacingAndGlyphs" >Golden</text>
<text x="1267.50" y="546.40" font-size="12.5" fill="#fff" font-weight="bold" font-style="italic" textLength="31.20" lengthAdjust="spacingAndGlyphs" >Cross</text>
<path d="M1075 79.5H1551.5M1075 289.5H1551.5M1075 424.5H1551.5M1075 558.5H1551.5" stroke="#222" stroke-width="1" stroke-dasharray="1 2" fill="none"/>
<text x="973.70" y="369.80" font-size="15.4" fill="#131722" textLength="68.20" lengthAdjust="spacingAndGlyphs" stroke="#131722" stroke-width="0.6">1D MA200</text>
<path d="M1001 375.1H1013.9V388.1H1019.9L1007.5 403.2L995.1 388.1H1001Z" fill="#ff9800"/>
<path d="M1145.5 513L1157.8 527.9H1151.9V540.9H1139V527.9H1133.1Z" fill="#2962ff"/>
<text x="1116.00" y="555.00" font-size="15.4" fill="#131722" textLength="58.20" lengthAdjust="spacingAndGlyphs" stroke="#131722" stroke-width="0.6">1D MA50</text>
<rect x="1715" y="34.5" width="84" height="795" fill="#fff"/>
<path d="M13 643.5H1799" stroke="#e4e7ef" stroke-width="1.2"/>
<text x="1724.80" y="78.40" font-size="14.1" fill="#4a4e59" textLength="56.00" lengthAdjust="spacingAndGlyphs" >0.200000</text>
<text x="1724.80" y="121.90" font-size="14.1" fill="#4a4e59" textLength="56.00" lengthAdjust="spacingAndGlyphs" >0.160000</text>
<text x="1724.80" y="162.90" font-size="14.1" fill="#4a4e59" textLength="56.00" lengthAdjust="spacingAndGlyphs" >0.130000</text>
<text x="1724.80" y="214.90" font-size="14.1" fill="#4a4e59" textLength="56.00" lengthAdjust="spacingAndGlyphs" >0.100000</text>
<text x="1724.80" y="257.90" font-size="14.1" fill="#4a4e59" textLength="56.00" lengthAdjust="spacingAndGlyphs" >0.080000</text>
<text x="1724.80" y="298.90" font-size="14.1" fill="#4a4e59" textLength="56.00" lengthAdjust="spacingAndGlyphs" >0.065000</text>
<text x="1724.80" y="350.40" font-size="14.1" fill="#4a4e59" textLength="56.00" lengthAdjust="spacingAndGlyphs" >0.050000</text>
<text x="1724.80" y="395.40" font-size="14.1" fill="#4a4e59" textLength="56.00" lengthAdjust="spacingAndGlyphs" >0.040000</text>
<text x="1724.80" y="438.90" font-size="14.1" fill="#4a4e59" textLength="56.00" lengthAdjust="spacingAndGlyphs" >0.032000</text>
<text x="1724.80" y="478.90" font-size="14.1" fill="#4a4e59" textLength="56.00" lengthAdjust="spacingAndGlyphs" >0.026000</text>
<text x="1724.80" y="520.90" font-size="14.1" fill="#4a4e59" textLength="56.00" lengthAdjust="spacingAndGlyphs" >0.021000</text>
<text x="1724.80" y="562.90" font-size="14.1" fill="#4a4e59" textLength="56.00" lengthAdjust="spacingAndGlyphs" >0.017000</text>
<text x="1724.80" y="600.90" font-size="14.1" fill="#4a4e59" textLength="56.00" lengthAdjust="spacingAndGlyphs" >0.014000</text>
<text x="1724.80" y="638.40" font-size="14.1" fill="#4a4e59" textLength="56.00" lengthAdjust="spacingAndGlyphs" >0.011600</text>
<text x="1724.80" y="682.90" font-size="14.1" fill="#4a4e59" textLength="41.60" lengthAdjust="spacingAndGlyphs" >200.00</text>
<text x="1724.80" y="723.90" font-size="14.1" fill="#4a4e59" textLength="27.00" lengthAdjust="spacingAndGlyphs" >0.00</text>
<text x="1724.80" y="763.90" font-size="14.1" fill="#4a4e59" textLength="48.60" lengthAdjust="spacingAndGlyphs" >−200.00</text>
<rect x="1715.5" y="35" width="83" height="40" fill="#fff"/>
<rect x="1719" y="38.8" width="74.2" height="32.2" rx="4.5" fill="#fff" stroke="#e3e6ee" stroke-width="1"/>
<text x="1730.20" y="60.60" font-size="17" fill="#131722" textLength="30.60" lengthAdjust="spacingAndGlyphs" >USD</text>
<path d="M1714.5 34V830" stroke="#3f434f" stroke-width="1"/>
<path d="M13 795.5H1799" stroke="#3f434f" stroke-width="1"/>
<path d="M1649 348H1714.5V367H1649a2 2 0 0 1-2-2V350a2 2 0 0 1 2-2Z" fill="#ef5350"/>
<path d="M1714.5 348H1785a2 2 0 0 1 2 2V380.5a2 2 0 0 1-2 2H1714.5Z" fill="#ef5350"/>
<path d="M1714.5 347V384" stroke="#3f434f" stroke-width="1"/>
<text x="1652.60" y="363.00" font-size="14.2" fill="#fff" textLength="56.30" lengthAdjust="spacingAndGlyphs" >GALAUSD</text>
<text x="1725.60" y="363.20" font-size="14.3" fill="#fff" textLength="56.30" lengthAdjust="spacingAndGlyphs" stroke="#fff" stroke-width="0.55">0.047245</text>
<text x="1726.20" y="379.00" font-size="14.3" fill="#fff" textLength="54.00" lengthAdjust="spacingAndGlyphs" fill-opacity="0.9" stroke="#fff" stroke-opacity="0.6" stroke-width="0.25">13:53:25</text>
<text x="55.50" y="816.80" font-size="13.9" fill="#4a4e59" text-anchor="middle" textLength="22.80" lengthAdjust="spacingAndGlyphs" >Sep</text>
<text x="205.50" y="816.80" font-size="13.9" fill="#4a4e59" text-anchor="middle" textLength="23.00" lengthAdjust="spacingAndGlyphs" >Nov</text>
<text x="355.50" y="816.80" font-size="13.9" fill="#4a4e59" font-weight="bold" text-anchor="middle" textLength="31.00" lengthAdjust="spacingAndGlyphs" >2024</text>
<text x="503.00" y="816.80" font-size="13.9" fill="#4a4e59" text-anchor="middle" textLength="23.40" lengthAdjust="spacingAndGlyphs" >Mar</text>
<text x="653.00" y="816.80" font-size="13.9" fill="#4a4e59" text-anchor="middle" textLength="25.00" lengthAdjust="spacingAndGlyphs" >May</text>
<text x="803.50" y="816.80" font-size="13.9" fill="#4a4e59" text-anchor="middle" textLength="17.60" lengthAdjust="spacingAndGlyphs" >Jul</text>
<text x="955.50" y="816.80" font-size="13.9" fill="#4a4e59" text-anchor="middle" textLength="22.80" lengthAdjust="spacingAndGlyphs" >Sep</text>
<text x="1105.50" y="816.80" font-size="13.9" fill="#4a4e59" text-anchor="middle" textLength="23.00" lengthAdjust="spacingAndGlyphs" >Nov</text>
<text x="1255.50" y="816.80" font-size="13.9" fill="#4a4e59" font-weight="bold" text-anchor="middle" textLength="31.00" lengthAdjust="spacingAndGlyphs" >2025</text>
<text x="1400.50" y="816.80" font-size="13.9" fill="#4a4e59" text-anchor="middle" textLength="23.40" lengthAdjust="spacingAndGlyphs" >Mar</text>
<text x="1550.50" y="816.80" font-size="13.9" fill="#4a4e59" text-anchor="middle" textLength="25.00" lengthAdjust="spacingAndGlyphs" >May</text>
<text x="1709.30" y="816.80" font-size="13.9" fill="#4a4e59" text-anchor="end" textLength="17.60" lengthAdjust="spacingAndGlyphs" >Jul</text>
<text x="12.70" y="24.90" font-size="15.4" fill="#2a2e39" textLength="79.30" lengthAdjust="spacingAndGlyphs" >TradingShot</text>
<text x="95.50" y="24.90" font-size="15.4" fill="#2a2e39" textLength="64.40" lengthAdjust="spacingAndGlyphs" >published</text>
<text x="163.90" y="24.90" font-size="15.4" fill="#2a2e39" textLength="17.50" lengthAdjust="spacingAndGlyphs" >on</text>
<text x="185.40" y="24.90" font-size="15.4" fill="#2a2e39" textLength="118.10" lengthAdjust="spacingAndGlyphs" >TradingView.com,</text>
<text x="308.80" y="24.90" font-size="15.4" fill="#2a2e39" textLength="24.90" lengthAdjust="spacingAndGlyphs" >Dec</text>
<text x="338.70" y="24.90" font-size="15.4" fill="#2a2e39" textLength="20.30" lengthAdjust="spacingAndGlyphs" >10,</text>
<text x="363.50" y="24.90" font-size="15.4" fill="#2a2e39" textLength="32.10" lengthAdjust="spacingAndGlyphs" >2024</text>
<text x="400.30" y="24.90" font-size="15.4" fill="#2a2e39" textLength="36.90" lengthAdjust="spacingAndGlyphs" >10:06</text>
<text x="441.40" y="24.90" font-size="15.4" fill="#2a2e39" textLength="27.80" lengthAdjust="spacingAndGlyphs" >UTC</text>
<text x="22.70" y="58.50" font-size="14.6" fill="#555966" textLength="35.30" lengthAdjust="spacingAndGlyphs" >Gala,</text>
<text x="63.20" y="58.50" font-size="14.6" fill="#555966" textLength="22.40" lengthAdjust="spacingAndGlyphs" >1D,</text>
<text x="89.80" y="58.50" font-size="14.6" fill="#555966" textLength="52.60" lengthAdjust="spacingAndGlyphs" >CRYPTO</text>
<text x="150.80" y="58.50" font-size="14.6" fill="#555966" textLength="10.30" lengthAdjust="spacingAndGlyphs" >O</text>
<text x="160.10" y="58.50" font-size="14.6" fill="#ef5350" textLength="61.80" lengthAdjust="spacingAndGlyphs" >0.047826</text>
<text x="231.10" y="58.50" font-size="14.6" fill="#555966" textLength="10.00" lengthAdjust="spacingAndGlyphs" >H</text>
<text x="240.20" y="58.50" font-size="14.6" fill="#ef5350" textLength="60.30" lengthAdjust="spacingAndGlyphs" >0.048851</text>
<text x="310.10" y="58.50" font-size="14.6" fill="#555966" textLength="8.10" lengthAdjust="spacingAndGlyphs" >L</text>
<text x="317.40" y="58.50" font-size="14.6" fill="#ef5350" textLength="61.00" lengthAdjust="spacingAndGlyphs" >0.043667</text>
<text x="387.10" y="58.50" font-size="14.6" fill="#555966" textLength="9.40" lengthAdjust="spacingAndGlyphs" >C</text>
<text x="395.60" y="58.50" font-size="14.6" fill="#ef5350" textLength="61.20" lengthAdjust="spacingAndGlyphs" >0.047245</text>
<text x="465.80" y="58.50" font-size="14.6" fill="#ef5350" textLength="67.90" lengthAdjust="spacingAndGlyphs" >−0.000582</text>
<text x="539.30" y="58.50" font-size="14.6" fill="#ef5350" textLength="56.90" lengthAdjust="spacingAndGlyphs" >(−1.22%)</text>
<path d="M13.1 845.9H22.9V857.7H17.8V850.4H13.1Z" fill="#1e222d"/>
<circle cx="26.8" cy="848.1" r="2.35" fill="#1e222d"/>
<path d="M31.2 845.9H37.2L32.8 857.7H27.1Z" fill="#1e222d"/>
<text x="42.20" y="857.70" font-size="15.3" fill="#1e222d" textLength="87.10" lengthAdjust="spacingAndGlyphs" >TradingView</text>
</svg>
</body></html>
